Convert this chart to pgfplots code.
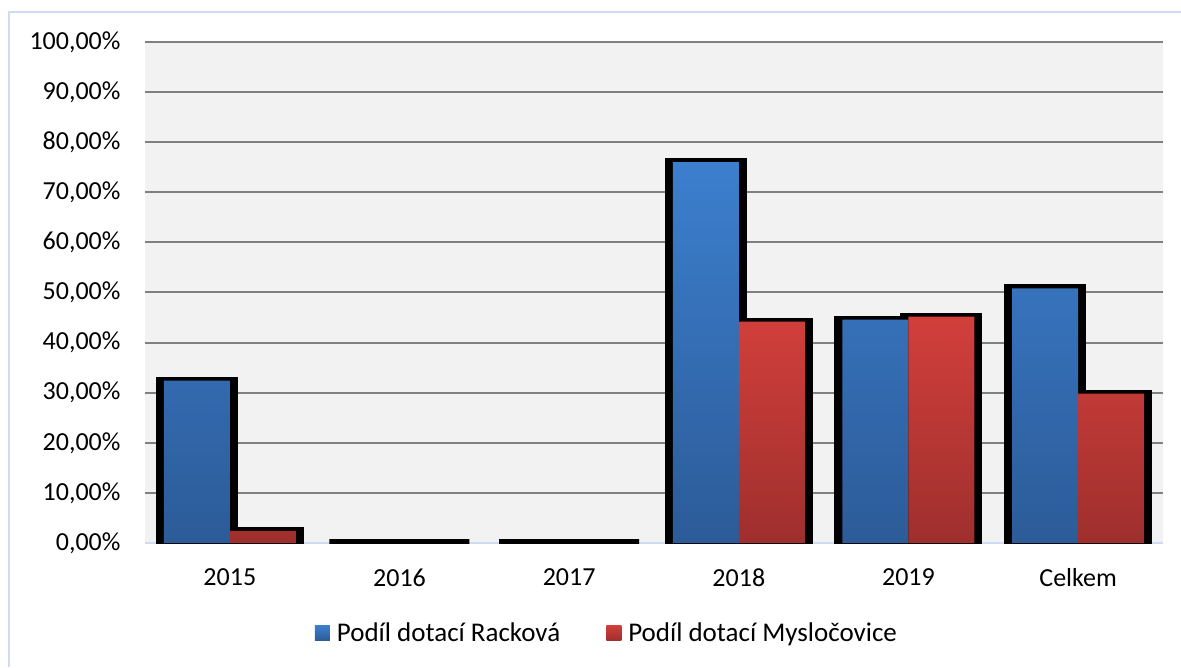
\documentclass[border=0pt]{standalone}
\usepackage{fontspec}
\setmainfont{Carlito}
\usepackage{pgfplots}
\usepackage{pgfplotstable}
\pgfplotsset{compat=1.18}

\definecolor{modraH}{RGB}{60,127,206}
\definecolor{modraD}{RGB}{44,91,152}
\definecolor{cervenaH}{RGB}{210,63,59}
\definecolor{cervenaD}{RGB}{158,47,45}
\definecolor{mrizka}{RGB}{128,128,128}
\definecolor{pozadi}{RGB}{242,242,242}
\definecolor{ramecek}{RGB}{205,220,240}

% podíl dotací v %
\pgfplotstableread{
x rackova myslocovice
0 32.4 2.4
1 0 0
2 0 0
3 76.0 44.2
4 44.6 45.2
5 50.8 29.8
}\dotace

\begin{document}
\begin{tikzpicture}
\path[use as bounding box] (0pt,0pt) rectangle (1181pt,667pt);
\draw[ramecek, line width=1.5pt] (9pt,0pt) -- (9pt,655pt) -- (1181pt,655pt);
\begin{axis}[
    at={(145pt,124pt)}, anchor=south west,
    scale only axis,
    width=1018pt, height=501pt,
    xmin=-0.5, xmax=5.5,
    ymin=0, ymax=100,
    xtick={0,...,5},
    xticklabels={2015,2016,2017,2018,2019,Celkem},
    ytick={0,10,...,100},
    yticklabel={\pgfmathprintnumber[fixed,fixed zerofill,precision=2,use comma]{\tick}\%},
    /pgf/number format/assume math mode=true,
    tick label style={font=\fontsize{26}{31}\selectfont, text=black},
    yticklabel style={xshift=-21pt},
    xticklabel style={yshift=-22pt},
    major tick length=0pt,
    axis lines*=left,
    y axis line style={draw=none},
    x axis line style={draw=ramecek, line width=2pt, -},
    axis background/.style={fill=pozadi},
    ymajorgrids,
    major grid style={draw=mrizka, line width=2pt},
    legend style={
        at={(0.4538,-0.1796)}, anchor=center,
        draw=none, fill=none,
        font=\fontsize{27}{32}\selectfont,
        legend columns=2,
        /tikz/every odd column/.append style={column sep=5pt},
        /tikz/every even column/.append style={column sep=44pt},
    },
    legend image code/.code={\path[#1, draw=none] (0pt,-7.5pt) rectangle (15pt,7.5pt);},
]
% černé stíny pod sloupci
\addplot[ybar, bar width=74pt, bar shift=-33pt, fill=black, draw=black,
    line width=8pt, line join=miter, forget plot]
    table[x=x, y=rackova]{\dotace};
\addplot[ybar, bar width=74pt, bar shift=33pt, fill=black, draw=black,
    line width=8pt, line join=miter, forget plot]
    table[x=x, y=myslocovice]{\dotace};
% sloupce
\addplot[ybar, bar width=66pt, bar shift=-33pt, draw=none,
    top color=modraH, bottom color=modraD,
    y filter/.expression={y==0 ? nan : y}]
    table[x=x, y=rackova]{\dotace};
\addplot[ybar, bar width=66pt, bar shift=33pt, draw=none,
    top color=cervenaH, bottom color=cervenaD,
    y filter/.expression={y==0 ? nan : y}]
    table[x=x, y=myslocovice]{\dotace};
\legend{Podíl dotací Racková, Podíl dotací Mysločovice}
\end{axis}
\end{tikzpicture}
\end{document}
